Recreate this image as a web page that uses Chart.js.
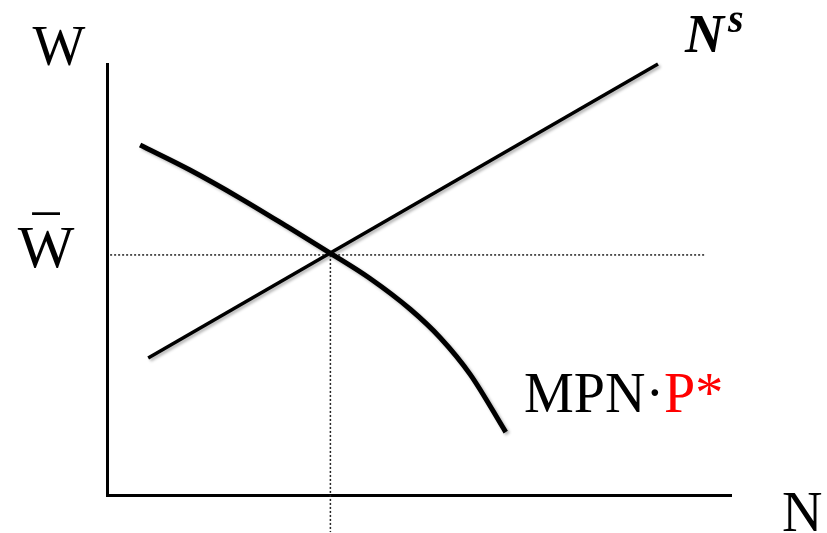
<!DOCTYPE html>
<html>
<head>
<meta charset="utf-8">
<script src="https://cdn.jsdelivr.net/npm/chart.js@4.4.1/dist/chart.umd.min.js"></script>
<style>
  html, body { margin: 0; padding: 0; background: #fff; }
  #wrap { width: 827px; height: 533px; }
  #warm { position: absolute; left: -9999px; font-family: "Liberation Serif"; }
</style>
</head>
<body>
<div id="warm">W N <b><i>N s</i></b></div>
<div id="wrap"><canvas id="myChart" width="827" height="533"></canvas></div>
<script>
/* ---------- DATA ---------- */
// labour supply N^s (straight line, two ends)
const supplyN = [0.66, 8.83];
const supplyW = [3.18, 10.0];
// labour demand MPN·P*
const demandN = [0.53, 1.33, 2.13, 2.93, 3.57, 4.21, 4.86, 5.34, 5.82, 6.39];
const demandW = [8.12, 7.54, 6.89, 6.19, 5.62, 5.03, 4.31, 3.65, 2.80, 1.46];
// equilibrium and dotted guides
const eqN = 3.58;
const eqW = 5.57;
const guideN = [0.05, 9.6];
const guideWBottom = -0.86;

const SERIF = "'Liberation Serif', 'Times New Roman', Times, serif";
const toPoints = (xs, ys) => xs.map((x, i) => ({ x, y: ys[i] }));

/* ---------- SHADOW ON CURVES ---------- */
const shadowPlugin = {
  id: "shadow",
  beforeDatasetDraw(chart, args) {
    const ctx = chart.ctx;
    ctx.save();
    if (args.index < 2) {
      ctx.shadowColor = "rgba(0,0,0,0.3)";
      ctx.shadowBlur = 3;
      ctx.shadowOffsetX = 2;
      ctx.shadowOffsetY = 2;
    }
  },
  afterDatasetDraw(chart) {
    chart.ctx.restore();
  }
};

/* ---------- TEXT LABELS ---------- */
const labelPlugin = {
  id: "labels",
  afterDraw(chart) {
    const ctx = chart.ctx;
    const xs = chart.scales.x;
    const ys = chart.scales.y;
    const a = chart.chartArea;
    ctx.save();
    ctx.fillStyle = "#000";
    ctx.textBaseline = "alphabetic";

    // axis names
    ctx.font = "56px " + SERIF;
    ctx.textAlign = "center";
    ctx.fillText("W", a.left - 48, a.top + 1);
    ctx.textAlign = "left";
    ctx.fillText("N", a.right + 51, a.bottom + 36);

    // W bar at equilibrium level
    const wx = a.left - 61;
    const wy = ys.getPixelForValue(eqW) + 12;
    ctx.font = "60px " + SERIF;
    ctx.textAlign = "center";
    ctx.fillText("W", wx, wy);
    const m = ctx.measureText("\u00af");
    const mBase = wy - 53 - (m.actualBoundingBoxDescent - m.actualBoundingBoxAscent) / 2;
    ctx.save();
    ctx.translate(wx, mBase);
    ctx.scale(0.9, 1);
    ctx.fillText("\u00af", 0, 0);
    ctx.restore();

    // N^s
    ctx.textAlign = "left";
    const nx = xs.getPixelForValue(supplyN[1]);
    ctx.font = "bold italic 54px " + SERIF;
    ctx.fillText("N", nx + 27, 52);
    ctx.font = "bold italic 40px " + SERIF;
    ctx.fillText("s", nx + 70, 32);

    // MPN·P*
    ctx.font = "56px " + SERIF;
    let x0 = 524;
    const y0 = 412;
    ctx.fillText("MPN\u00b7", x0, y0);
    x0 += ctx.measureText("MPN\u00b7").width;
    ctx.fillStyle = "#ff0000";
    ctx.fillText("P*", x0, y0);
    ctx.restore();
  }
};

/* ---------- CHART ---------- */
function draw() {
  const ctx = document.getElementById("myChart").getContext("2d");
  new Chart(ctx, {
    type: "line",
    data: {
      datasets: [
        {
          data: toPoints(supplyN, supplyW),
          borderColor: "#000",
          borderWidth: 3.5,
          pointRadius: 0,
          clip: false
        },
        {
          data: toPoints(demandN, demandW),
          borderColor: "#000",
          borderWidth: 5,
          pointRadius: 0,
          cubicInterpolationMode: "monotone",
          clip: false
        },
        {
          data: toPoints(guideN, [eqW, eqW]),
          borderColor: "#222",
          borderWidth: 1.5,
          borderDash: [2, 2],
          pointRadius: 0,
          clip: false
        },
        {
          data: toPoints([eqN, eqN], [eqW, guideWBottom]),
          borderColor: "#222",
          borderWidth: 1.5,
          borderDash: [2, 2],
          pointRadius: 0,
          clip: false
        }
      ]
    },
    options: {
      responsive: false,
      animation: false,
      devicePixelRatio: 1,
      layout: { padding: { left: 107, top: 64, right: 96, bottom: 38 } },
      plugins: { legend: { display: false }, tooltip: { enabled: false } },
      scales: {
        x: {
          type: "linear", min: 0, max: 10,
          ticks: { display: false },
          grid: { display: false, drawTicks: false },
          border: { display: true, color: "#000", width: 3 }
        },
        y: {
          type: "linear", min: 0, max: 10,
          ticks: { display: false },
          grid: { display: false, drawTicks: false },
          border: { display: true, color: "#000", width: 3 }
        }
      }
    },
    plugins: [shadowPlugin, labelPlugin]
  });
}

Promise.all([
  document.fonts.load("56px 'Liberation Serif'"),
  document.fonts.load("bold italic 54px 'Liberation Serif'")
]).then(draw, draw);
</script>
</body>
</html>
